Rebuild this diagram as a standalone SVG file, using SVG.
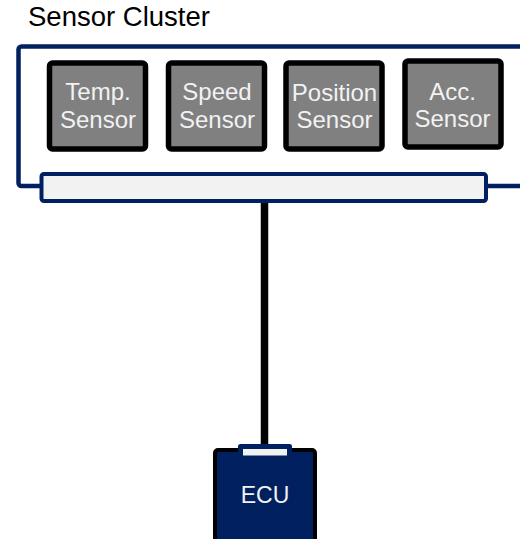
<svg xmlns="http://www.w3.org/2000/svg" width="520" height="539" viewBox="0 0 520 539">
<style>
.navy{stroke:#002060;fill:none;stroke-width:4.5}
.sensor rect{fill:#808080;stroke:#000;stroke-width:5.5}
.sensor text{fill:#f2f2f2;font-family:"Liberation Sans",Arial,sans-serif;font-size:24px;text-anchor:middle}
.title{font-family:"Liberation Sans",Arial,sans-serif;font-size:27.5px;fill:#000}
</style>
<rect width="520" height="539" fill="#fff"/>
<text class="title" x="28" y="26">Sensor Cluster</text>
<g id="cluster">
<rect class="navy" x="18.5" y="46.5" width="560" height="139.5" rx="3"/>
</g>
<g id="bus">
<rect x="41.5" y="174" width="444.5" height="27" rx="2.5" fill="#f2f2f2" stroke="#002060" stroke-width="4"/>
</g>
<g id="temp" class="sensor">
<rect x="49.5" y="63" width="96" height="86" rx="3"/>
<text x="98" y="100">Temp.</text>
<text x="98" y="128">Sensor</text>
</g>
<g id="speed" class="sensor">
<rect x="168.5" y="63" width="96" height="86" rx="3"/>
<text x="217" y="100">Speed</text>
<text x="217" y="128">Sensor</text>
</g>
<g id="position" class="sensor">
<rect x="286" y="63" width="96" height="86" rx="3"/>
<text x="334.5" y="101">Position</text>
<text x="334.5" y="128">Sensor</text>
</g>
<g id="acc" class="sensor">
<rect x="405" y="61" width="96" height="86" rx="3"/>
<text x="452.5" y="100">Acc.</text>
<text x="452.5" y="127">Sensor</text>
</g>
<g id="connectors">
<line x1="264.5" y1="203" x2="264.5" y2="446" stroke="#000" stroke-width="7.5"/>
</g>
<g id="ecu">
<rect x="215" y="450" width="100" height="120" rx="3" fill="#002060" stroke="#000" stroke-width="4"/>
<rect x="238" y="444" width="54" height="12" rx="2.5" fill="#002060"/>
<rect x="243" y="449" width="44" height="6.5" fill="#f2f2f2"/>
<text x="265" y="503" font-family="Liberation Sans,Arial,sans-serif" font-size="23" fill="#f2f2f2" text-anchor="middle">ECU</text>
</g>
</svg>
